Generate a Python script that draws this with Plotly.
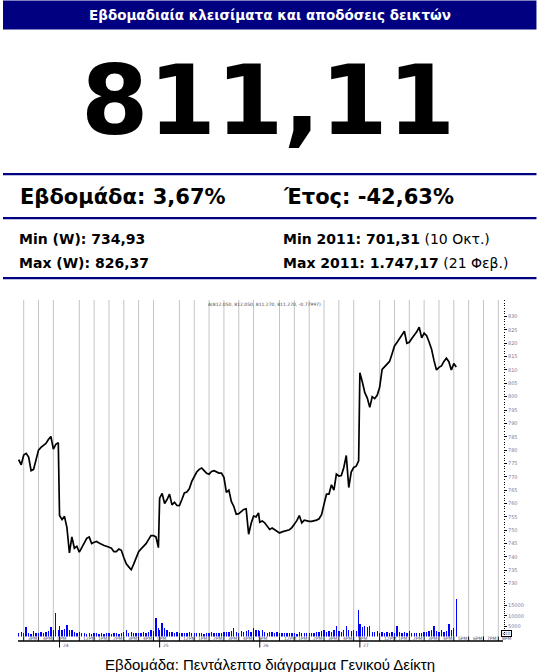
import plotly.graph_objects as go

# ---------------- data ----------------
DAY_LABELS = ["21", "24", "25", "26", "27"]
DAY_START = ["14:40", "10:40", "10:40", "10:40", "10:40"]
STEP_MIN = 10

PRICE_21 = [776.4, 774.5, 778.2, 778.8, 777.4, 772.3, 772.8, 776.2, 780.0, 781.0,
            781.6, 782.5, 784.0, 785.1, 780.4, 782.2, 782.8]
PRICE_24 = [755.5, 754.0, 755.2, 751.0, 741.5, 747.5, 743.3, 744.0, 741.8, 743.5,
            745.5, 747.0, 747.5, 745.0, 745.5, 745.8, 745.2, 744.6, 744.3, 744.0,
            743.6, 743.3, 742.0, 742.0, 743.0, 742.5, 739.8, 737.4, 736.3, 735.2,
            737.3, 739.8, 742.0, 743.0, 744.0, 745.0, 746.5, 748.0, 748.0, 747.5, 743.5]
PRICE_25 = [762.0, 763.8, 760.0, 761.5, 763.5, 759.5, 760.5, 759.3, 759.2, 761.5,
            764.0, 764.3, 765.5, 768.3, 770.3, 771.8, 772.8, 773.3, 772.3, 771.3,
            771.0, 772.0, 772.3, 771.9, 771.4, 771.4, 769.8, 764.2, 765.0, 760.8,
            758.9, 756.0, 756.2, 757.0, 757.8, 758.0, 748.5, 752.5, 755.3, 755.0, 756.5]
PRICE_26 = [753.0, 753.5, 752.8, 751.5, 750.3, 750.8, 750.2, 749.5, 749.0, 749.4,
            749.6, 749.8, 750.2, 751.0, 752.3, 753.6, 755.5, 752.8, 753.8, 753.5,
            753.3, 753.3, 753.5, 753.8, 754.3, 755.8, 759.8, 763.5, 763.5, 767.0,
            765.0, 771.0, 770.3, 770.5, 773.5, 778.0, 766.0, 771.8, 773.5, 774.0, 776.0]
PRICE_27 = [809.0, 805.5, 801.5, 799.5, 796.0, 800.0, 799.3, 800.5, 803.5, 810.2,
            811.2, 812.0, 813.2, 816.0, 819.0, 820.3, 821.8, 823.0, 824.5, 820.0,
            820.4, 821.8, 823.0, 824.3, 826.0, 822.0, 823.8, 822.8, 820.5, 817.8,
            813.5, 810.0, 811.0, 811.5, 813.2, 814.4, 813.1, 810.0, 812.4, 811.11]

VOL_21 = [1600, 2400, 1500, 4400, 1800, 1400, 2500, 1900, 1700, 2400,
          1600, 2000, 2600, 4400, 3200, 11600, 3000]
VOL_24 = [5000, 3300, 3600, 5600, 3000, 3300, 2200, 1600, 2000, 1500,
          1700, 1400, 1800, 1300, 1500, 1700, 1300, 1600, 1400, 1800,
          1500, 1400, 1700, 1500, 1300, 1800, 2000, 3100, 1900, 2200,
          1700, 1500, 1900, 1600, 2000, 1800, 2300, 3300, 2600, 8900, 4000]
VOL_25 = [3300, 6500, 4300, 3200, 2200, 2000, 1800, 2300, 1600, 1900,
          1500, 1700, 2100, 1600, 1800, 1500, 1900, 1700, 1400, 1800,
          1600, 2000, 1500, 1700, 1900, 1600, 2100, 2400, 2000, 2600,
          4300, 2200, 1900, 2500, 2100, 2700, 3300, 2400, 4000, 3000, 3200]
VOL_26 = [2600, 3000, 2200, 1800, 2400, 2000, 1700, 2200, 1500, 1900,
          1600, 1800, 1500, 1700, 1600, 1400, 2000, 1600, 1500, 1800,
          1700, 1500, 1900, 2300, 2000, 2600, 3200, 2400, 2800, 2200,
          3000, 4900, 2600, 2200, 3400, 5300, 3300, 2500, 3000, 2600, 12900]
VOL_27 = [6000, 4800, 5200, 4500, 4900, 2400, 2000, 2600, 1800, 2200,
          1700, 2400, 1900, 2100, 1800, 5000, 2300, 1600, 2100, 1800,
          2500, 1700, 1500, 1900, 1600, 1800, 2200, 2000, 2600, 3000,
          4900, 2600, 2200, 3200, 2400, 2800, 5900, 3400, 4200, 18300]

PRICES = [PRICE_21, PRICE_24, PRICE_25, PRICE_26, PRICE_27]
VOLUMES = [VOL_21, VOL_24, VOL_25, VOL_26, VOL_27]

PRICE_TICKS = list(range(730, 831, 5))
VOL_TICKS = [5000, 10000, 15000]
HOUR_LABELS = {12: "12PM", 13: "1PM", 14: "2PM", 15: "3PM", 16: "4PM",
               17: "5PM", 18: "6PM", 19: "7PM", 20: "8PM"}

INFO_TITLE = "Εβδομαδιαία κλεισίματα και αποδόσεις δεικτών"
LAST_VALUE = "811,11"
WEEK_RET = "Εβδομάδα: 3,67%"
YEAR_RET = "Έτος: -42,63%"
MIN_W = "Min (W): 734,93"
MAX_W = "Max (W): 826,37"
MIN_Y = ("Min 2011: 701,31", "(10 Οκτ.)")
MAX_Y = ("Max 2011: 1.747,17", "(21 Φεβ.)")
OHLC_TEXT = "A(812.050, 812.050, 811.270, 811.270, -0.77997)"
FOOTER = "Εβδομάδα: Πεντάλεπτο διάγραμμα Γενικού Δείκτη"

# ---------------- layout helpers ----------------
W, H = 540, 672
L, R, T, B = 18, 36.5, 300, 30.5
PW, PH = W - L - R, H - T - B
NAVY = "#000080"


def fx(p):
    return (p - L) / PW


def fy(p):
    return (H - B - p) / PH


SESSION_OPEN = 10 + 40 / 60
SESSION_LEN = 6.75


def xpos(day_idx, hours):
    return day_idx * SESSION_LEN + hours - SESSION_OPEN


def to_hours(s):
    h, m = s.split(":")
    return int(h) + int(m) / 60


xs, ys, vx, vy = [], [], [], []
for d, (start, pr, vo) in enumerate(zip(DAY_START, PRICES, VOLUMES)):
    h0 = to_hours(start)
    for i, p in enumerate(pr):
        xs.append(xpos(d, h0 + i * STEP_MIN / 60))
        ys.append(p)
    for i, v in enumerate(vo):
        vx.append(xpos(d, h0 + i * STEP_MIN / 60))
        vy.append(v)

X_MIN = xpos(0, 14 + 37 / 60)
X_MAX = xpos(4, 20 + 19 / 60)

fig = go.Figure()
fig.add_trace(go.Scatter(x=xs, y=ys, mode="lines",
                         line=dict(color="black", width=1.7),
                         hoverinfo="skip", showlegend=False))
fig.add_trace(go.Bar(x=vx, y=vy, yaxis="y2", width=0.09,
                     marker=dict(color="#0000ff", line=dict(width=0)),
                     hoverinfo="skip", showlegend=False))

shapes = []
annotations = []

# hour gridlines and labels
for d in range(len(DAY_LABELS)):
    hours = range(12, 21) if d == len(DAY_LABELS) - 1 else range(12, 18)
    for h in hours:
        xv = xpos(d, h)
        if xv < X_MIN or xv > X_MAX:
            continue
        shapes.append(dict(type="line", xref="x", yref="paper", x0=xv, x1=xv,
                           y0=fy(637), y1=1, layer="below",
                           line=dict(color="#c4c4c4", width=1)))
        shapes.append(dict(type="line", xref="x", yref="paper", x0=xv, x1=xv,
                           y0=0, y1=fy(637), line=dict(color="black", width=1)))
        annotations.append(dict(x=xv, y=fy(639.3), xref="x", yref="paper",
                                text=HOUR_LABELS[h], showarrow=False,
                                xanchor="left", yanchor="middle", xshift=2,
                                font=dict(size=4.5, color="#555577",
                                          family="DejaVu Sans")))

# day ticks
for d in range(1, len(DAY_LABELS)):
    xv = xpos(d, SESSION_OPEN)
    shapes.append(dict(type="line", xref="x", yref="paper", x0=xv, x1=xv,
                       y0=fy(648), y1=fy(637), line=dict(color="black", width=1)))
    annotations.append(dict(x=xv, y=fy(646), xref="x", yref="paper",
                            text=DAY_LABELS[d], showarrow=False,
                            xanchor="left", yanchor="middle", xshift=1,
                            font=dict(size=4.5, color="#555577", family="DejaVu Sans")))

# bottom axis line
shapes.append(dict(type="line", xref="paper", yref="paper", x0=0, x1=1, y0=0, y1=0,
                   line=dict(color="black", width=1.5)))

# header decorations
shapes.append(dict(type="rect", xref="paper", yref="paper",
                   x0=fx(3), x1=fx(537), y0=fy(29), y1=fy(0),
                   fillcolor=NAVY, line=dict(width=0)))
for yy in (174, 218, 278):
    shapes.append(dict(type="line", xref="paper", yref="paper",
                       x0=fx(3), x1=fx(537), y0=fy(yy), y1=fy(yy),
                       line=dict(color=NAVY, width=2.2)))

BOLD_FONT = "DejaVu Sans"
annotations += [
    dict(x=fx(270), y=fy(14.5), text="<b>%s</b>" % INFO_TITLE,
         font=dict(size=13.5, color="white", family=BOLD_FONT)),
    dict(x=fx(268), y=fy(100), text="<b>%s</b>" % LAST_VALUE,
         font=dict(size=97, color="black", family=BOLD_FONT)),
    dict(x=fx(18), y=fy(197), text="<b>%s</b>" % WEEK_RET, xanchor="left",
         font=dict(size=21, color="black", family=BOLD_FONT)),
    dict(x=fx(281), y=fy(197), text="<b>%s</b>" % YEAR_RET, xanchor="left",
         font=dict(size=21, color="black", family=BOLD_FONT)),
    dict(x=fx(17), y=fy(239), text="<b>%s</b>" % MIN_W, xanchor="left",
         font=dict(size=14, color="black", family=BOLD_FONT)),
    dict(x=fx(17), y=fy(263), text="<b>%s</b>" % MAX_W, xanchor="left",
         font=dict(size=14, color="black", family=BOLD_FONT)),
    dict(x=fx(281), y=fy(239), text="<b>%s</b> %s" % MIN_Y, xanchor="left",
         font=dict(size=14, color="black", family=BOLD_FONT)),
    dict(x=fx(281), y=fy(263), text="<b>%s</b> %s" % MAX_Y, xanchor="left",
         font=dict(size=14, color="black", family=BOLD_FONT)),
    dict(x=fx(270), y=fy(665), text=FOOTER,
         font=dict(size=15, color="black", family="Liberation Sans")),
    dict(x=fx(206), y=fy(305), text=OHLC_TEXT, xanchor="left",
         font=dict(size=4.5, color="#444444", family="DejaVu Sans")),
    dict(x=fx(507.5), y=fy(634), text="x10", bordercolor="black", borderwidth=1,
         borderpad=0, font=dict(size=4.5, color="#555577", family="DejaVu Sans")),
]
for a in annotations:
    a.setdefault("xref", "paper")
    a.setdefault("yref", "paper")
    a.setdefault("showarrow", False)
    a.setdefault("xanchor", "center")
    a.setdefault("yanchor", "middle")

axis_font = dict(size=5, color="#7a7a9a", family="DejaVu Sans")
fig.update_layout(
    width=W, height=H,
    margin=dict(l=L, r=R, t=T, b=B, pad=0),
    paper_bgcolor="white", plot_bgcolor="white",
    showlegend=False, bargap=0,
    xaxis=dict(range=[X_MIN, X_MAX], showticklabels=False, showgrid=False,
               zeroline=False, showline=False, ticks="", fixedrange=True),
    yaxis=dict(domain=[fy(598), 1], range=[724.8, 836.2], side="right",
               anchor="x", tickvals=PRICE_TICKS, ticks="outside", ticklen=3,
               tickwidth=1, tickcolor="black", showgrid=False, zeroline=False,
               showline=False, tickfont=axis_font, fixedrange=True,
               minor=dict(dtick=1, tick0=0, ticks="outside", ticklen=1,
                          tickwidth=1, tickcolor="black", showgrid=False)),
    yaxis2=dict(domain=[fy(637), fy(598)], range=[0, 18900], side="right",
                anchor="x", tickvals=VOL_TICKS, ticktext=[str(v) for v in VOL_TICKS],
                ticks="outside", ticklen=3, tickwidth=1, tickcolor="black",
                showgrid=False, zeroline=False, showline=False, tickfont=axis_font,
                fixedrange=True,
                minor=dict(dtick=1000, tick0=0, ticks="outside", ticklen=1,
                           tickwidth=1, tickcolor="black", showgrid=False)),
    shapes=shapes,
    annotations=annotations,
)

fig.write_html("out.html",
               config={"displayModeBar": False, "staticPlot": True},
               post_script="document.body.style.margin='0px';"
                           "document.body.style.overflow='hidden';")
